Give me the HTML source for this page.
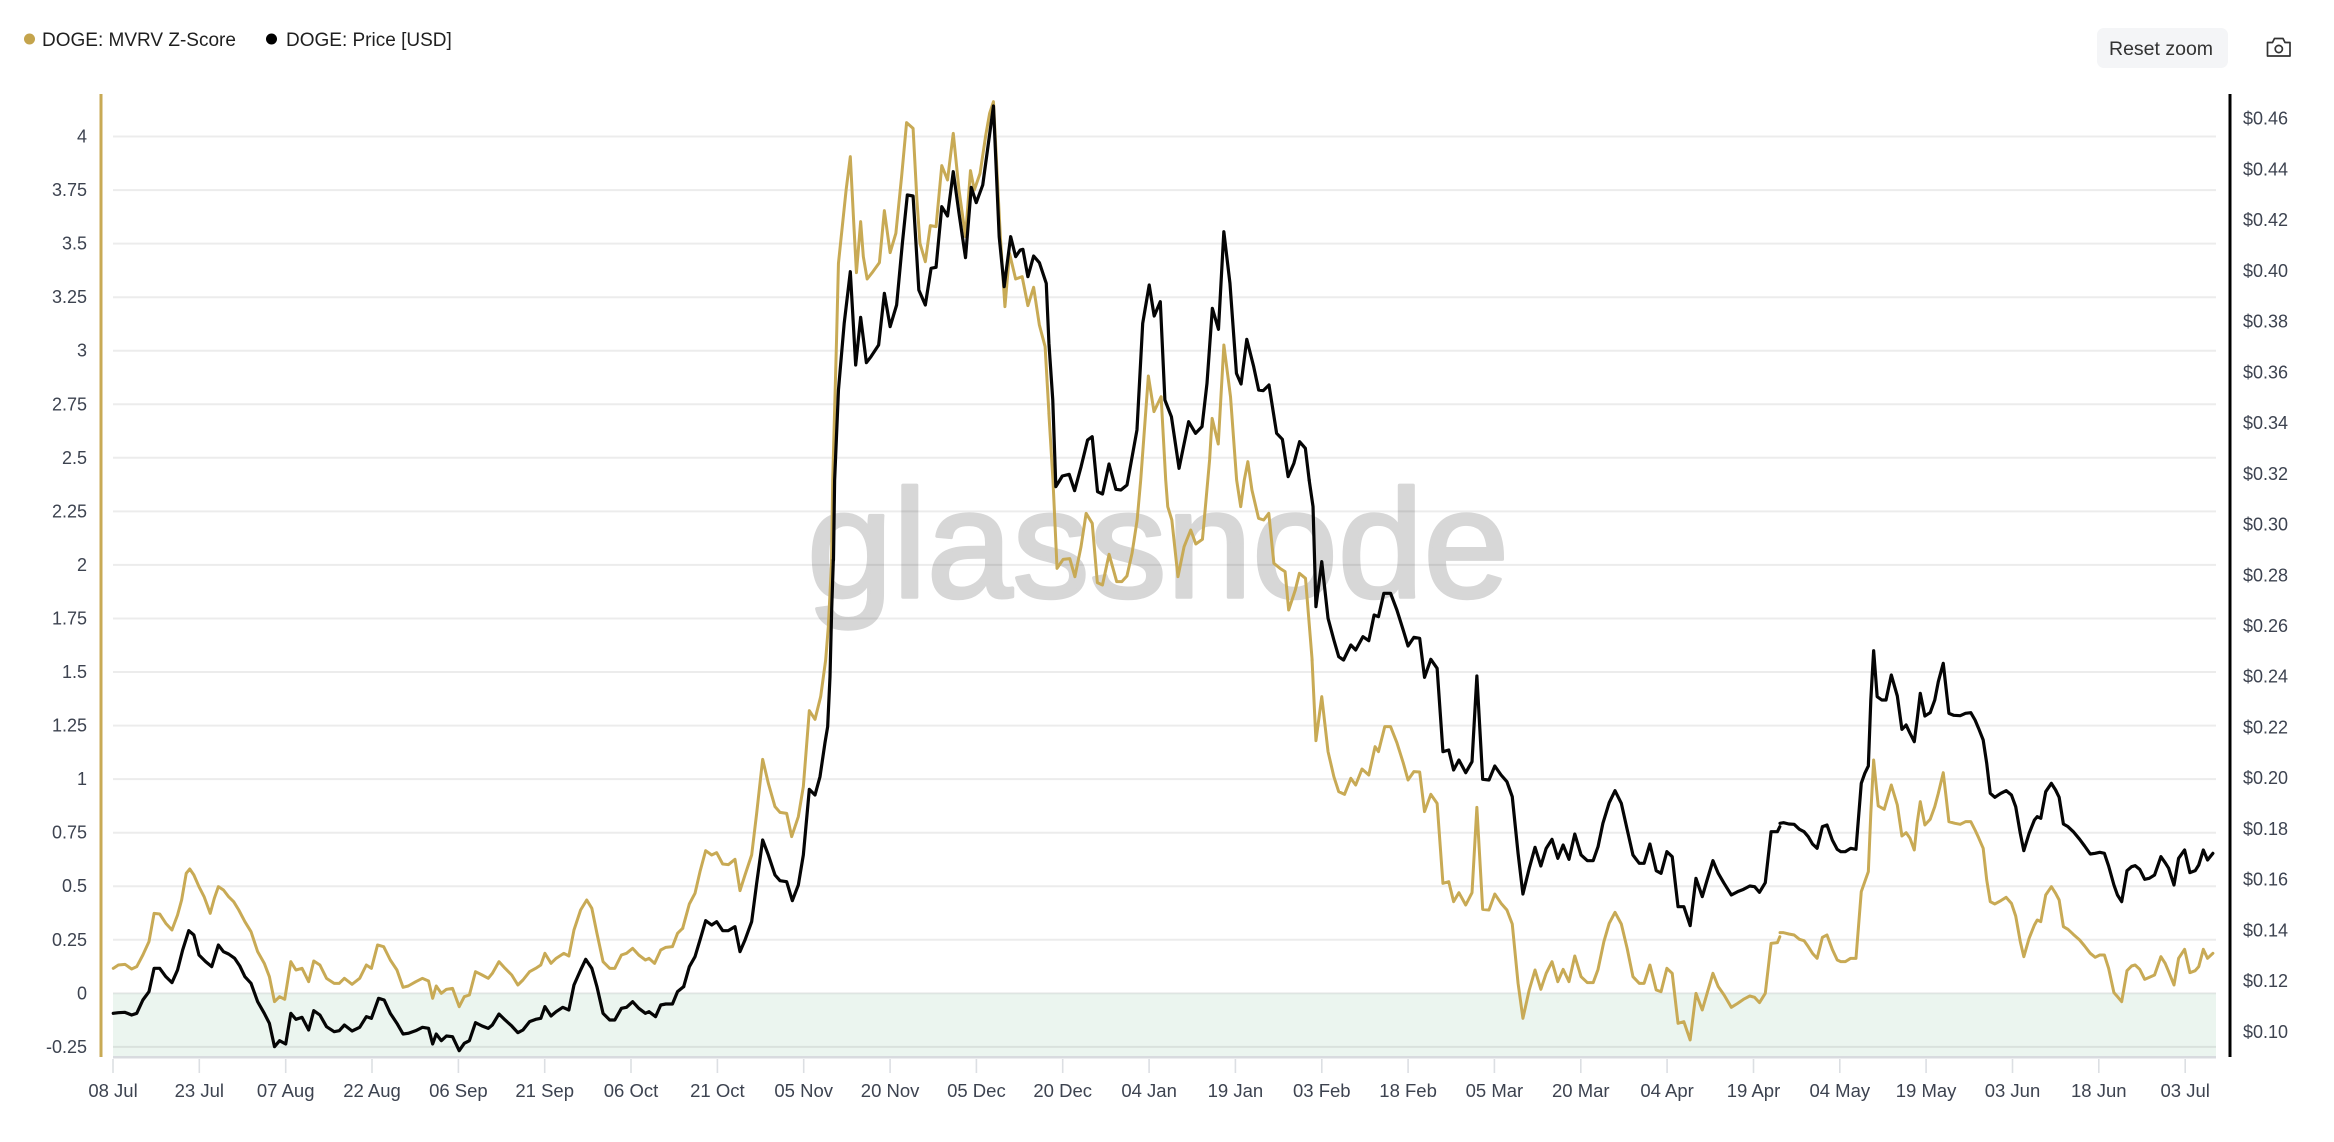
<!DOCTYPE html>
<html><head><meta charset="utf-8"><style>
html,body{margin:0;padding:0;background:#fff;}
svg{display:block;}
.pl{fill:none;stroke-linejoin:round;stroke-linecap:round;vector-effect:non-scaling-stroke;}
.g{stroke:#c8aa55;stroke-width:3;}
.k{stroke:#050505;stroke-width:3.2;}
</style></head><body>
<svg width="2334" height="1142" viewBox="0 0 2334 1142" xmlns="http://www.w3.org/2000/svg" font-family="'Liberation Sans', Arial, sans-serif">
<rect x="0" y="0" width="2334" height="1142" fill="#fff"/>
<!-- legend -->
<circle cx="29.5" cy="39" r="5.5" fill="#c4a44c"/>
<text x="42" y="46" font-size="19" fill="#1f1f1f">DOGE: MVRV Z-Score</text>
<circle cx="271.5" cy="39" r="5.5" fill="#000"/>
<text x="286" y="46" font-size="19" fill="#1f1f1f">DOGE: Price [USD]</text>
<!-- reset zoom -->
<rect x="2097" y="28" width="131" height="40" rx="7" fill="#f4f5f7"/>
<text x="2109" y="55" font-size="19.5" fill="#333">Reset zoom</text>
<!-- camera -->
<g fill="none" stroke="#333" stroke-width="1.7" stroke-linejoin="round">
<path d="M2267.5 42.5 H2272.5 L2274.5 38.5 H2283 L2285 42.5 H2290 V56 H2267.5 Z"/>
<circle cx="2278.8" cy="49" r="3.6"/>
</g>
<!-- band -->
<rect x="113" y="993.3" width="2103" height="63.7" fill="#ebf5ef"/>
<!-- watermark -->
<text x="807" y="597" font-size="154" fill="#d7d7d7" stroke="#d7d7d7" stroke-width="3.5" stroke-linejoin="round">glassnode</text>
<!-- gridlines -->
<g stroke="#000" stroke-opacity="0.075" stroke-width="2">
<line x1="113" x2="2216" y1="136.5" y2="136.5"/>
<line x1="113" x2="2216" y1="190.1" y2="190.1"/>
<line x1="113" x2="2216" y1="243.6" y2="243.6"/>
<line x1="113" x2="2216" y1="297.2" y2="297.2"/>
<line x1="113" x2="2216" y1="350.7" y2="350.7"/>
<line x1="113" x2="2216" y1="404.3" y2="404.3"/>
<line x1="113" x2="2216" y1="457.8" y2="457.8"/>
<line x1="113" x2="2216" y1="511.4" y2="511.4"/>
<line x1="113" x2="2216" y1="564.9" y2="564.9"/>
<line x1="113" x2="2216" y1="618.5" y2="618.5"/>
<line x1="113" x2="2216" y1="672" y2="672"/>
<line x1="113" x2="2216" y1="725.6" y2="725.6"/>
<line x1="113" x2="2216" y1="779.1" y2="779.1"/>
<line x1="113" x2="2216" y1="832.7" y2="832.7"/>
<line x1="113" x2="2216" y1="886.2" y2="886.2"/>
<line x1="113" x2="2216" y1="939.8" y2="939.8"/>
<line x1="113" x2="2216" y1="993.3" y2="993.3"/>
<line x1="113" x2="2216" y1="1046.9" y2="1046.9"/>
</g>
<!-- bottom axis -->
<line x1="113" x2="2216" y1="1057.3" y2="1057.3" stroke="#d8dbdf" stroke-width="2.5"/>
<g stroke="#dcdfe3" stroke-width="1.6">
<line x1="113" x2="113" y1="1059" y2="1073"/>
<line x1="199.3" x2="199.3" y1="1059" y2="1073"/>
<line x1="285.7" x2="285.7" y1="1059" y2="1073"/>
<line x1="372" x2="372" y1="1059" y2="1073"/>
<line x1="458.4" x2="458.4" y1="1059" y2="1073"/>
<line x1="544.7" x2="544.7" y1="1059" y2="1073"/>
<line x1="631" x2="631" y1="1059" y2="1073"/>
<line x1="717.4" x2="717.4" y1="1059" y2="1073"/>
<line x1="803.7" x2="803.7" y1="1059" y2="1073"/>
<line x1="890.1" x2="890.1" y1="1059" y2="1073"/>
<line x1="976.4" x2="976.4" y1="1059" y2="1073"/>
<line x1="1062.7" x2="1062.7" y1="1059" y2="1073"/>
<line x1="1149.1" x2="1149.1" y1="1059" y2="1073"/>
<line x1="1235.4" x2="1235.4" y1="1059" y2="1073"/>
<line x1="1321.8" x2="1321.8" y1="1059" y2="1073"/>
<line x1="1408.1" x2="1408.1" y1="1059" y2="1073"/>
<line x1="1494.4" x2="1494.4" y1="1059" y2="1073"/>
<line x1="1580.8" x2="1580.8" y1="1059" y2="1073"/>
<line x1="1667.1" x2="1667.1" y1="1059" y2="1073"/>
<line x1="1753.5" x2="1753.5" y1="1059" y2="1073"/>
<line x1="1839.8" x2="1839.8" y1="1059" y2="1073"/>
<line x1="1926.1" x2="1926.1" y1="1059" y2="1073"/>
<line x1="2012.5" x2="2012.5" y1="1059" y2="1073"/>
<line x1="2098.8" x2="2098.8" y1="1059" y2="1073"/>
<line x1="2185.2" x2="2185.2" y1="1059" y2="1073"/>
</g>
<g font-size="18.5" fill="#3d4350" text-anchor="middle">
<text x="113" y="1097">08 Jul</text>
<text x="199.3" y="1097">23 Jul</text>
<text x="285.7" y="1097">07 Aug</text>
<text x="372" y="1097">22 Aug</text>
<text x="458.4" y="1097">06 Sep</text>
<text x="544.7" y="1097">21 Sep</text>
<text x="631" y="1097">06 Oct</text>
<text x="717.4" y="1097">21 Oct</text>
<text x="803.7" y="1097">05 Nov</text>
<text x="890.1" y="1097">20 Nov</text>
<text x="976.4" y="1097">05 Dec</text>
<text x="1062.7" y="1097">20 Dec</text>
<text x="1149.1" y="1097">04 Jan</text>
<text x="1235.4" y="1097">19 Jan</text>
<text x="1321.8" y="1097">03 Feb</text>
<text x="1408.1" y="1097">18 Feb</text>
<text x="1494.4" y="1097">05 Mar</text>
<text x="1580.8" y="1097">20 Mar</text>
<text x="1667.1" y="1097">04 Apr</text>
<text x="1753.5" y="1097">19 Apr</text>
<text x="1839.8" y="1097">04 May</text>
<text x="1926.1" y="1097">19 May</text>
<text x="2012.5" y="1097">03 Jun</text>
<text x="2098.8" y="1097">18 Jun</text>
<text x="2185.2" y="1097">03 Jul</text>
</g>
<!-- left axis -->
<line x1="101" x2="101" y1="94" y2="1057" stroke="#c8aa55" stroke-width="3"/>
<g font-size="18" fill="#3d4350" text-anchor="end">
<text x="87" y="142.5">4</text>
<text x="87" y="196.1">3.75</text>
<text x="87" y="249.6">3.5</text>
<text x="87" y="303.2">3.25</text>
<text x="87" y="356.7">3</text>
<text x="87" y="410.3">2.75</text>
<text x="87" y="463.8">2.5</text>
<text x="87" y="517.4">2.25</text>
<text x="87" y="570.9">2</text>
<text x="87" y="624.5">1.75</text>
<text x="87" y="678">1.5</text>
<text x="87" y="731.6">1.25</text>
<text x="87" y="785.1">1</text>
<text x="87" y="838.7">0.75</text>
<text x="87" y="892.2">0.5</text>
<text x="87" y="945.8">0.25</text>
<text x="87" y="999.3">0</text>
<text x="87" y="1052.9">-0.25</text>
</g>
<!-- right axis -->
<line x1="2230" x2="2230" y1="94" y2="1057" stroke="#000" stroke-width="3"/>
<g font-size="18" fill="#3d4350">
<text x="2243" y="124.6">$0.46</text>
<text x="2243" y="175.3">$0.44</text>
<text x="2243" y="226.1">$0.42</text>
<text x="2243" y="276.8">$0.40</text>
<text x="2243" y="327.6">$0.38</text>
<text x="2243" y="378.3">$0.36</text>
<text x="2243" y="429">$0.34</text>
<text x="2243" y="479.8">$0.32</text>
<text x="2243" y="530.5">$0.30</text>
<text x="2243" y="581.3">$0.28</text>
<text x="2243" y="632">$0.26</text>
<text x="2243" y="682.7">$0.24</text>
<text x="2243" y="733.5">$0.22</text>
<text x="2243" y="784.2">$0.20</text>
<text x="2243" y="835">$0.18</text>
<text x="2243" y="885.7">$0.16</text>
<text x="2243" y="936.4">$0.14</text>
<text x="2243" y="987.2">$0.12</text>
<text x="2243" y="1037.9">$0.10</text>
</g>

<!-- GOLD series -->
<g transform="translate(0,900) scale(0.5102,0.33333)">
<polyline class="pl g" points="222,205 232,195 245,193 258,207 268,200 280,165 292,125 302,40 313,42 325,70 337,90 348,45 356,0 365,-80 372,-93 380,-75 390,-40 400,-10 412,40 420,-5 428,-40 438,-30 448,-10 458,5 468,30 480,65 492,95 505,155 518,190 528,230 538,305 548,290 558,298 570,185 580,210 592,205 605,245 615,183 627,195 640,235 655,250 665,250 675,235 690,253 705,235 718,195 728,205 740,135 752,140 765,180 778,210 790,262 800,258 815,245 828,235 840,243 848,295 855,258 865,280 875,268 887,265 900,320 910,290 920,285 932,215 945,225 957,235 965,220 978,185 990,205 1003,225 1015,255 1025,240 1038,215 1050,205 1060,195 1068,160 1080,190 1090,175 1105,160 1115,168 1125,90 1138,30 1150,0 1160,25 1170,100 1182,185 1195,205 1205,205 1218,165 1228,160 1240,145 1252,165 1265,180 1272,175 1283,190 1295,150 1305,142 1318,140 1328,100 1338,85"/>
</g>
<g transform="translate(560,560) scale(0.33333,0.33333)">
<polyline class="pl g" points="368,1105 388,1032 405,1000 420,935 437,872 455,885 470,878 488,912 505,914 525,898 540,992 555,945 575,885 590,760 608,598 625,670 645,740 660,757 680,760 695,830 715,770 730,680 748,452 765,478 782,410 797,300 805,200 810,100 815,0"/>
</g>
<g transform="translate(760,80) scale(0.3827,0.33333)">
<polyline class="pl g" points="187,1440 190,1200 200,780 205,550 215,440 225,330 236,230 245,430 252,578 263,425 270,530 280,597 295,575 312,548 325,392 340,518 355,460 370,290 383,128 400,145 410,360 418,490 432,545 445,437 460,440 475,257 490,300 505,160 520,330 537,470 550,272 560,330 575,280 590,165 600,100 610,65 620,290 628,470 640,680 652,520 668,597 685,590 700,677 715,622 730,735 745,800 755,1000"/>
</g>
<g transform="translate(780,440) scale(0.5102,0.33333)">
<polyline class="pl g" points="527,-80 535,120 543,385 555,358 568,356 578,410 590,320 600,220 612,250 622,428 632,435 645,343 660,425 670,425 680,408 690,340 700,240 707,120 722,-192 733,-85 747,-130 756,120 760,200 768,240 780,410 792,320 805,270 815,312 828,298 835,180 842,60 847,-65 859,12 870,-285 883,-130 895,120 903,200 910,120 917,65 925,150 938,235 948,240 958,220 968,370 980,385 990,395 997,510 1010,450 1018,400 1030,415 1043,660"/>
</g>
<g transform="translate(1060,560) scale(0.48473,0.33333)">
<polyline class="pl g" points="520,300 528,542 540,410 553,575 565,650 575,695 587,703 600,655 610,675 623,627 637,645 650,560 657,575 670,500 682,500 695,548 708,608 718,660 730,635 742,636 752,755 765,703 778,730 790,970 802,965 812,1025 823,998 837,1035 850,998 860,742 872,1048 885,1050 897,1002 910,1030 922,1050 933,1092 945,1270 955,1375 968,1290 980,1230 992,1288 1003,1240 1015,1205 1027,1265 1038,1228 1050,1265 1062,1188 1075,1250 1088,1268 1100,1268 1110,1228 1122,1145 1133,1090 1145,1057 1158,1092 1170,1165 1182,1250 1195,1270 1205,1270 1217,1215 1230,1290 1240,1295 1252,1225 1263,1240 1275,1390 1287,1385 1300,1440 1312,1300 1325,1350 1335,1300 1347,1240 1358,1280 1370,1305 1385,1342 1398,1330 1410,1318 1423,1308 1433,1312 1443,1328 1455,1300 1467,1150 1480,1148 1485,1130"/>
</g>
<g transform="translate(1780,560) scale(0.35336,0.33333)">
<polyline class="pl g" points="0,1118 10,1118 25,1122 40,1125 55,1138 68,1142 80,1160 92,1180 105,1195 120,1132 133,1125 148,1168 162,1200 172,1205 185,1205 200,1195 215,1195 230,995 240,965 250,935 257,760 265,600 278,738 295,748 315,675 332,735 345,828 357,818 368,835 380,870 388,790 397,725 410,795 425,778 438,740 448,700 462,638 470,710 478,785 495,790 510,793 525,785 540,785 552,810 562,833 575,865 585,960 595,1025 608,1032 625,1022 640,1012 655,1030 667,1068 680,1145 690,1190 705,1135 720,1095 728,1080 738,1085 752,1005 768,980 780,1000 790,1020 802,1100 815,1108 830,1123 848,1140 862,1158 878,1180 892,1192 905,1185 918,1185 930,1225 945,1298 955,1310 967,1325 982,1232 995,1218 1005,1215 1018,1228 1032,1258 1045,1252 1060,1245 1078,1190 1090,1210 1100,1235 1115,1275 1128,1195 1145,1168 1160,1238 1175,1232 1185,1220 1198,1168 1210,1195 1225,1180"/>
</g>

<!-- BLACK series -->
<g transform="translate(0,900) scale(0.5102,0.33333)">
<polyline class="pl k" points="222,340 232,338 245,337 258,345 268,340 280,300 292,275 302,205 313,205 325,230 337,248 348,210 358,150 370,92 380,105 390,165 403,185 415,200 428,135 438,155 448,162 460,175 470,198 480,230 492,250 505,305 518,340 528,370 538,440 548,422 560,432 570,340 580,358 592,352 605,390 615,332 627,345 640,380 655,395 665,392 675,375 690,393 705,382 718,350 728,355 742,295 753,300 765,340 778,370 790,402 800,400 815,392 828,382 840,385 848,432 855,402 865,422 875,408 887,410 900,452 910,430 920,422 932,368 945,378 957,385 965,375 978,342 990,360 1003,378 1015,398 1025,390 1038,365 1050,358 1060,355 1068,320 1080,348 1090,335 1103,322 1115,330 1125,255 1138,210 1148,178 1160,205 1170,260 1182,340 1195,360 1205,360 1218,325 1228,322 1240,305 1252,325 1265,340 1272,335 1285,350 1295,315 1305,312 1318,312 1328,275 1340,260"/>
</g>
<g transform="translate(560,560) scale(0.33333,0.33333)">
<polyline class="pl k" points="371,1280 388,1220 405,1190 420,1140 437,1082 455,1095 470,1085 488,1112 505,1112 525,1100 540,1175 555,1140 575,1085 590,970 608,840 625,885 645,945 660,962 680,965 697,1022 715,975 730,885 748,688 765,705 780,650 795,548 803,500 810,350 815,150 820,0"/>
</g>
<g transform="translate(760,80) scale(0.3827,0.33333)">
<polyline class="pl k" points="192,1440 195,1200 205,930 220,730 236,575 250,855 263,712 278,848 290,830 310,795 325,640 340,740 357,675 372,490 385,345 400,348 415,630 432,675 447,565 460,562 475,380 490,408 505,275 520,400 537,533 552,322 565,368 582,315 598,180 610,78 625,470 638,620 655,470 668,530 680,510 687,508 700,590 715,528 730,548 748,610 755,790 765,960 773,1220 790,1188 808,1183 822,1232 839,1160 856,1080 868,1070 882,1235 895,1242 912,1152 930,1228 943,1230 959,1215 985,1050 1000,730 1017,615 1030,708 1046,665 1058,960 1075,1010 1095,1165 1120,1025 1138,1060 1155,1040 1168,910 1182,685 1198,748 1212,455 1228,610 1245,880 1257,912 1272,778 1290,860 1303,930 1315,932 1330,915 1350,1060 1365,1078 1380,1190 1395,1150 1410,1085 1425,1105 1435,1200"/>
</g>
<g transform="translate(1060,560) scale(0.48473,0.33333)">
<polyline class="pl k" points="514,-240 522,-160 528,140 540,5 553,175 565,240 575,290 585,300 600,255 610,270 625,230 637,242 648,165 657,170 668,100 682,100 695,150 708,210 718,258 730,232 742,235 752,352 765,298 778,325 790,575 802,570 812,630 823,600 837,638 850,605 860,348 872,658 885,660 897,618 910,645 922,665 933,710 945,880 955,1002 968,925 980,862 992,918 1003,865 1015,838 1027,895 1038,855 1050,898 1062,822 1075,885 1088,902 1100,902 1110,860 1120,790 1133,728 1145,692 1158,730 1170,808 1182,885 1195,910 1205,910 1217,852 1230,932 1240,940 1252,875 1263,890 1275,1040 1287,1040 1300,1097 1312,955 1325,1010 1335,960 1347,902 1358,940 1370,970 1385,1005 1398,995 1410,988 1423,978 1433,980 1443,997 1455,968 1467,815 1480,815 1485,800"/>
</g>
<g transform="translate(1780,560) scale(0.35336,0.33333)">
<polyline class="pl k" points="0,790 10,788 25,792 40,793 55,808 68,815 80,830 92,852 105,865 120,800 133,795 148,840 162,868 172,875 185,875 200,865 215,868 230,670 240,640 250,618 257,420 265,272 275,410 288,420 300,420 315,345 332,408 345,508 357,495 368,520 380,545 388,480 397,400 410,468 425,458 438,420 448,365 462,310 470,385 478,460 492,466 510,467 525,460 540,458 552,480 562,505 575,540 585,610 595,700 608,712 625,700 640,692 655,705 667,740 680,820 690,872 705,820 720,780 728,770 738,775 752,695 768,670 780,690 790,712 802,792 815,800 830,815 848,838 862,858 878,882 892,880 905,877 918,880 930,918 945,975 955,1005 967,1025 982,932 995,920 1005,917 1018,928 1032,958 1045,955 1060,945 1078,890 1090,908 1100,925 1115,975 1128,895 1145,870 1160,938 1175,932 1185,915 1198,870 1210,900 1225,880"/>
</g>
</svg>
</body></html>
